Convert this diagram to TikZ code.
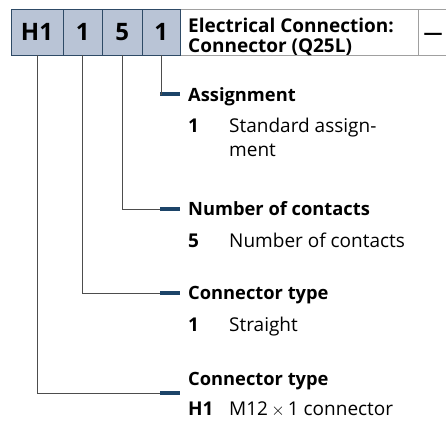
\documentclass[tikz,border=0pt]{standalone}
\usepackage{fontspec}
\setmainfont{Open Sans}
\usepackage{tikz}
\usetikzlibrary{positioning}
\definecolor{codefill}{HTML}{B9C4D6}
\definecolor{codeline}{HTML}{2E4A66}
\definecolor{barblue}{HTML}{1C4468}
\definecolor{headline}{HTML}{A0A0A0}
\definecolor{linkgray}{HTML}{4D4D4D}
\tikzstyle{link} = [draw=linkgray, line width=0.9pt]

\begin{document}
\begin{tikzpicture}[x=1pt, y=-1pt]
        \tikzstyle{code}=[
            draw=codeline, fill=codefill, line width=0.9pt,
            minimum height=46pt, inner sep=0pt, outer sep=0pt,
            font=\fontsize{24}{24}\selectfont\bfseries
        ]
        \tikzstyle{headbox}=[
            draw=headline, line width=0.8pt,
            minimum height=46pt, inner sep=0pt, outer sep=0pt
        ]
        \tikzstyle{bar}=[fill=barblue, minimum width=20pt, minimum height=4pt, inner sep=0pt, outer sep=0pt]
        \tikzstyle{title}=[inner sep=0pt, font=\fontsize{18.3}{23}\selectfont\bfseries]
        \tikzstyle{item}=[inner sep=0pt, align=left, font=\fontsize{19}{24}\selectfont]

        \useasboundingbox (0,0) rectangle (446,423);

        % header line
        \node[headbox, minimum width=238pt, anchor=west] (head) at (180,32) {};
        \node[headbox, minimum width=30pt, right=0pt of head] (dash) {};
        \node[inner sep=0pt, font=\fontsize{19}{19}\selectfont\bfseries] (dashtxt) at (433,36) {\textemdash};
        \node[inner sep=0pt, anchor=base west, align=left, font=\fontsize{19}{20}\selectfont\bfseries]
            (headtxt) at (188,52) {Electrical Connection:\\Connector (Q25L)};

        \node[code, minimum width=52pt, anchor=west] (ch1) at (11,32) {H1};
        \node[code, minimum width=39.5pt, right=0pt of ch1] (ctype) {1};
        \node[code, minimum width=39.5pt, right=0pt of ctype] (cnum) {5};
        \node[code, minimum width=38.5pt, right=0pt of cnum] (cass) {1};

        % bars
        \node[bar] (bass) at (170,94) {};
        \node[bar] (bnum) at (170,209) {};
        \node[bar] (btype) at (170,293) {};
        \node[bar] (bh1) at (170,393) {};

        \draw[link] (cass.south) |- (bass.west);
        \draw[link] (cnum.south) |- (bnum.west);
        \draw[link] (ctype.south) |- (btype.west);
        \draw[link] (ch1.south) |- (bh1.west);

        % assignment
        \node[title, anchor=base west] (tass) at ([xshift=8pt, yshift=-7pt]bass.east) {Assignment};
        \node[item, below=31pt of tass.base west, anchor=base west] (nass) {\bfseries 1};
        \node[item, right=41pt of nass.base west, anchor=base west, yshift=-24pt] (dass) {Standard assign-\\ment};

        % number of contacts
        \node[title, anchor=base west] (tnum) at ([xshift=8pt, yshift=-6.5pt]bnum.east) {Number of contacts};
        \node[item, below=32pt of tnum.base west, anchor=base west] (nnum) {\bfseries 5};
        \node[item, right=41pt of nnum.base west, anchor=base west] (dnum) {Number of contacts};

        % connector type
        \node[title, anchor=base west] (ttype) at ([xshift=8pt, yshift=-6.5pt]btype.east) {Connector type};
        \node[item, below=32pt of ttype.base west, anchor=base west] (ntype) {\bfseries 1};
        \node[item, right=41pt of ntype.base west, anchor=base west] (dtype) {Straight};

        % connector type (H1)
        \node[title, anchor=base west] (th1) at ([xshift=8pt, yshift=8pt]bh1.east) {Connector type};
        \node[item, below=30pt of th1.base west, anchor=base west] (nh1) {\bfseries H1};
        \node[item, right=41pt of nh1.base west, anchor=base west] (dh1) {M12\,$\times$\,1 connector};

    \end{tikzpicture}
\end{document}
